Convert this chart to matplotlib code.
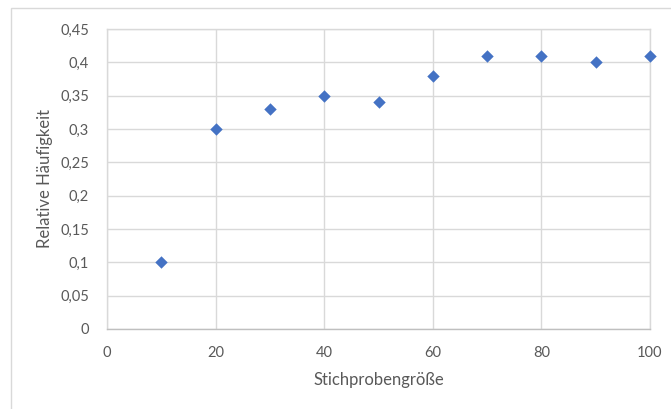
import matplotlib
matplotlib.use("Agg")
import matplotlib.pyplot as plt
from matplotlib.patches import Rectangle
from matplotlib.ticker import FuncFormatter

# Stichprobengröße vs. relative Häufigkeit
stichprobe = [10, 20, 30, 40, 50, 60, 70, 80, 90, 100]
haeufigkeit = [0.10, 0.30, 0.33, 0.35, 0.34, 0.38, 0.41, 0.41, 0.40, 0.41]

plt.rcParams['font.family'] = ['Lato', 'DejaVu Sans']
grey_txt = '#595959'
grid_col = '#D9D9D9'

fig = plt.figure(figsize=(6.71, 4.09), dpi=100)
ax = fig.add_axes([107/671, 1 - 329/409, 543/671, 300/409])

# outer chart frame
fig.patches.append(Rectangle((11/671, -0.1), 1.2, 1 - 8/409 + 0.1,
                             transform=fig.transFigure, fill=False,
                             edgecolor=grid_col, linewidth=1))

ax.scatter(stichprobe, haeufigkeit, marker='D', s=40, color='#4472C4',
           zorder=3, linewidths=0, clip_on=False)

ax.set_xlim(0, 100)
ax.set_ylim(0, 0.45)
ax.set_xticks(range(0, 101, 20))
ax.set_yticks([i * 0.05 for i in range(10)])

def komma(v, pos):
    s = ('%.2f' % v).rstrip('0').rstrip('.')
    return s.replace('.', ',')

ax.yaxis.set_major_formatter(FuncFormatter(komma))
ax.xaxis.set_major_formatter(FuncFormatter(lambda v, p: '%d' % v))

ax.grid(True, color=grid_col, linewidth=1)
ax.set_axisbelow(True)
for sp in ax.spines.values():
    sp.set_color(grid_col)
    sp.set_linewidth(1)
ax.spines['bottom'].set_color('#BFBFBF')

ax.tick_params(length=0, colors=grey_txt, labelsize=10.5)
ax.tick_params(axis='y', pad=13)
ax.tick_params(axis='x', pad=12)

ax.set_xlabel('Stichprobengröße', color=grey_txt, fontsize=12)
ax.set_ylabel('Relative Häufigkeit', color=grey_txt, fontsize=12)
ax.xaxis.set_label_coords(0.5, -0.145)
ax.yaxis.set_label_coords(-0.099, 0.5)

fig.savefig('out.png', dpi=100)
